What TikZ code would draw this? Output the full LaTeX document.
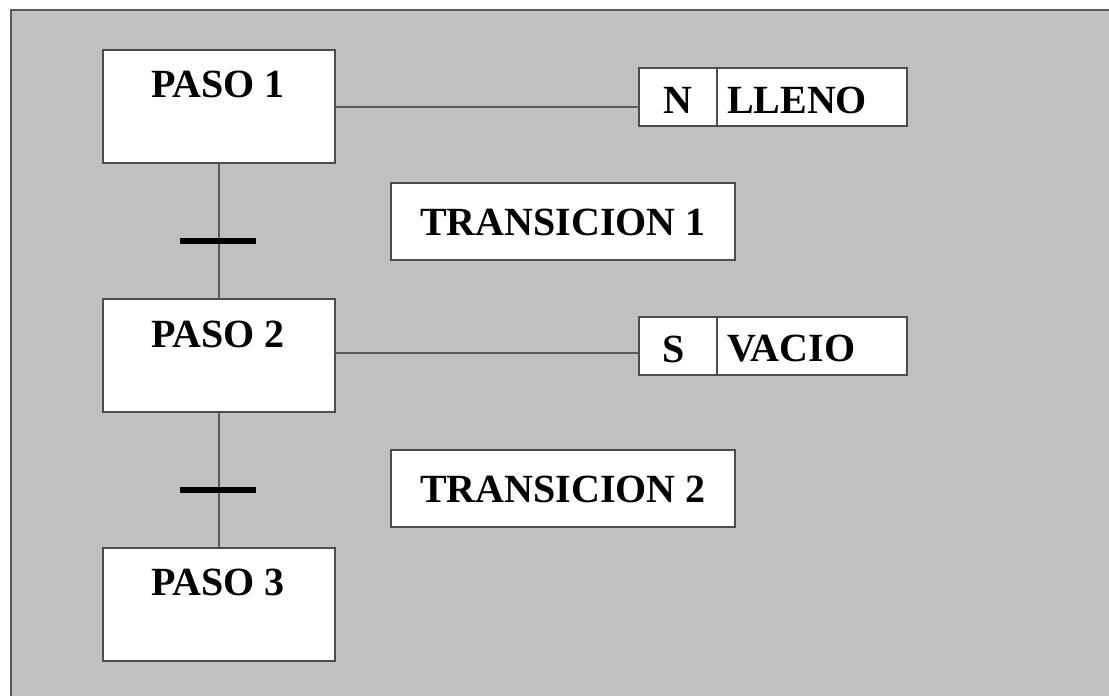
\documentclass[tikz,border=0pt]{standalone}
\usepackage{fontspec}
\setmainfont{Liberation Serif}
\begin{document}
\begin{tikzpicture}[x=1pt,y=-1pt,
  every node/.style={inner sep=0pt, outer sep=0pt},
  frameline/.style={draw=black!65, line width=2pt},
  stepbox/.style={draw=black!70, line width=2pt, fill=white, minimum width=232pt, minimum height=113pt},
  actbox/.style={draw=black!70, line width=2pt, fill=white, minimum height=58pt},
  trbox/.style={draw=black!70, line width=2pt, fill=white, minimum width=344pt, minimum height=77pt},
  lbl/.style={font=\bfseries\fontsize{40}{46}\selectfont},
  link/.style={draw=black!65, line width=2pt},
  bar/.style={fill=black, minimum width=76pt, minimum height=6pt}]
\useasboundingbox (0,0) rectangle (1109,696);
\fill[fill={rgb,255:red,192;green,192;blue,192}] (11,10) rectangle (1109,696);
\draw[frameline] (11,696) -- (11,10) -- (1109,10);

% steps
\node[stepbox] (p1) at (219,106.5) {};
\node[lbl, anchor=base] (p1t) at (218,97) {PASO 1};
\node[stepbox] (p2) at (219,355) {};
\node[lbl, anchor=base] (p2t) at (218,347) {PASO 2};
\node[stepbox] (p3) at (219,604) {};
\node[lbl, anchor=base] (p3t) at (218,595) {PASO 3};

% vertical links and transitions
\draw[link] (p1.south) -- (p2.north);
\draw[link] (p2.south) -- (p3.north);
\node[bar] (b1) at (218,241) {};
\node[bar] (b2) at (218,490) {};

% actions
\node[actbox, minimum width=78pt] (n1) at (678,97) {};
\node[lbl] (n1t) at (678,100) {N};
\node[actbox, minimum width=190pt] (l1) at (812,97) {};
\node[lbl, anchor=west] (l1t) at (727,100) {LLENO};
\draw[link] (p1.east |- 0,107) -- (n1.west |- 0,107);

\node[actbox, minimum width=78pt] (s2) at (678,346) {};
\node[lbl] (s2t) at (674,349) {S};
\node[actbox, minimum width=190pt] (v2) at (812,346) {};
\node[lbl, anchor=west] (v2t) at (727,349) {VACIO};
\draw[link] (p2.east |- 0,353) -- (s2.west |- 0,353);

% transition labels
\node[trbox] (tr1) at (563,221.5) {};
\node[lbl] (tr1t) at (563,222) {TRANSICION 1};
\node[trbox] (tr2) at (563,488.5) {};
\node[lbl] (tr2t) at (563,489) {TRANSICION 2};
\end{tikzpicture}
\end{document}
